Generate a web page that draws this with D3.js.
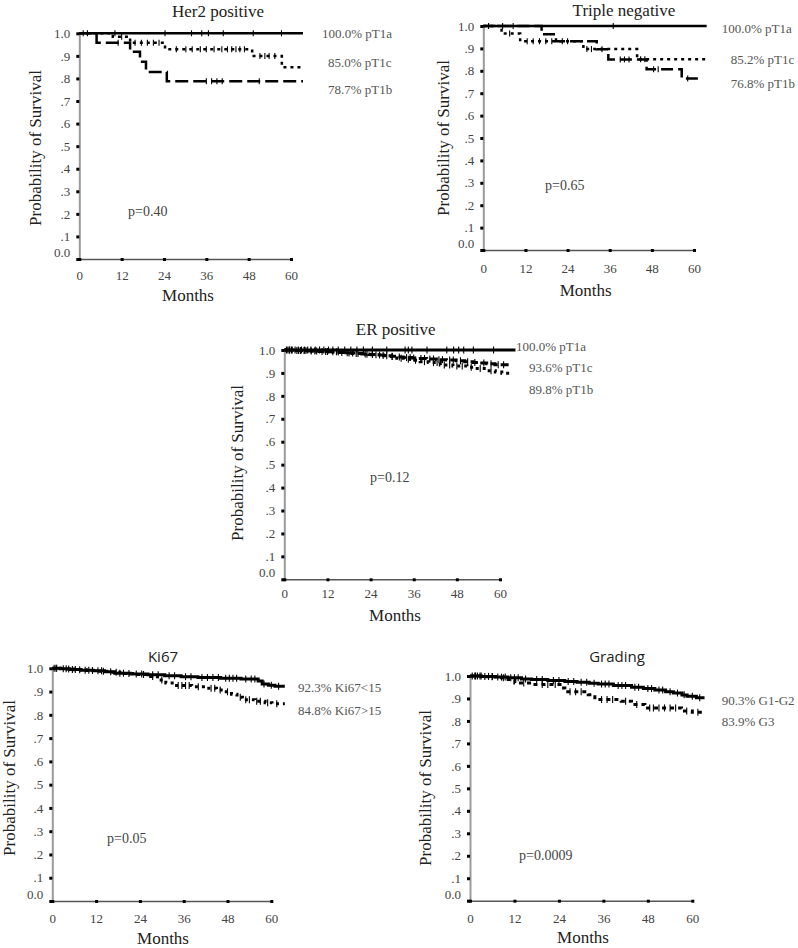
<!DOCTYPE html>
<html><head><meta charset="utf-8">
<script src="https://cdn.jsdelivr.net/npm/d3@7"></script>
<style>body{margin:0;background:#fff}svg{display:block}</style>
</head><body>
<svg id="c" width="798" height="948"></svg>
<script>
// ---------- shared tick values ----------
const yTicks = [0, 0.1, 0.2, 0.3, 0.4, 0.5, 0.6, 0.7, 0.8, 0.9, 1.0];
const yTickLabels = ["0.0", ".1", ".2", ".3", ".4", ".5", ".6", ".7", ".8", ".9", "1.0"];
const xTicks = [0, 12, 24, 36, 48, 60];
const xTickLabels = ["0", "12", "24", "36", "48", "60"];

// ---------- Her2 positive ----------
const her2_pT1a = [[0, 1.0]];
const her2_pT1a_cens = [1.1, 2.3, 10.1, 24.3, 31.8, 34.7, 36.6, 40.8, 49.3, 57.3];
const her2_pT1c = [[0, 1.0], [9.5, 0.985], [14.4, 0.958], [24.3, 0.929], [49.0, 0.899], [57.4, 0.850]];
const her2_pT1c_cens = [12.0, 15.8, 17.6, 19.3, 21.0, 22.6, 27.5, 30.2, 32.0, 34.3, 36.0, 38.2, 40.4, 42.0, 43.2, 44.4, 45.5, 46.8, 51.2, 52.6, 53.8, 55.4];
const her2_pT1b = [[0, 1.0], [4.9, 0.958], [14.4, 0.918], [17.2, 0.874], [18.9, 0.829], [24.8, 0.787]];
const her2_pT1b_cens = [11.0, 36.0, 37.5, 39.0, 40.5, 51.0];
const her2_labels = ["100.0% pT1a", "85.0% pT1c", "78.7% pT1b"];

// ---------- Triple negative ----------
const tn_pT1a = [[0, 1.0]];
const tn_pT1a_cens = [1.5, 5.5, 8.5, 37.0];
const tn_pT1c = [[0, 1.0], [5.2, 0.966], [10.5, 0.932], [28.5, 0.897], [43.8, 0.852]];
const tn_pT1c_cens = [7.5, 12.5, 14.2, 16.0, 17.8, 19.5, 29.5, 30.8, 44.8, 46.0];
const tn_pT1b = [[0, 1.0], [16.6, 0.963], [20.7, 0.932], [32.3, 0.896], [35.6, 0.851], [46.5, 0.807], [56.5, 0.766]];
const tn_pT1b_cens = [22.5, 24.0, 33.8, 39.0, 40.2, 41.5, 48.5, 49.8, 58.2];
const tn_labels = ["100.0% pT1a", "85.2% pT1c", "76.8% pT1b"];

// ---------- ER positive ----------
const er_pT1a = [[0, 1.0]];
const er_pT1a_cens = [0.6, 1.4, 2.2, 3.0, 3.9, 4.8, 5.6, 6.5, 7.4, 8.6, 9.8, 11.0, 12.3, 13.5, 15.0, 16.8, 18.5, 20.2, 22.0, 24.5, 28.5, 33.6, 34.5, 35.5, 39.7, 45.2, 47.1, 48.5, 49.9, 52.6, 58.2];
const er_pT1c = [[0, 1.0], [2.8, 0.998], [6.5, 0.996], [9.7, 0.994], [12.6, 0.992], [15.2, 0.989], [17.4, 0.987], [19.8, 0.985], [21.6, 0.983], [23.5, 0.980], [25.9, 0.978], [27.6, 0.975], [29.8, 0.973], [31.3, 0.970], [33.1, 0.967], [35.4, 0.965], [37.2, 0.963], [39.6, 0.961], [42.3, 0.958], [45.1, 0.956], [47.8, 0.953], [50.2, 0.949], [52.5, 0.946], [54.4, 0.943], [56.3, 0.940], [58.6, 0.936]];
const er_pT1c_cens = [1.0, 2.0, 3.5, 4.5, 5.5, 7.5, 8.5, 10.5, 11.5, 13.5, 14.5, 16.0, 18.0, 19.0, 20.5, 22.5, 24.5, 26.5, 28.5, 30.0, 32.0, 34.0, 35.0, 36.0, 38.0, 39.0, 40.5, 41.5, 43.0, 44.0, 46.0, 47.0, 49.0, 51.0, 53.0, 55.5, 57.5, 59.5, 61.0];
const er_pT1b = [[0, 1.0], [3.4, 0.998], [7.1, 0.996], [10.4, 0.993], [13.5, 0.991], [16.1, 0.988], [18.9, 0.985], [21.3, 0.982], [24.2, 0.979], [26.8, 0.976], [28.9, 0.972], [31.3, 0.964], [33.5, 0.960], [35.8, 0.955], [37.8, 0.949], [40.1, 0.945], [43.4, 0.935], [46.9, 0.930], [50.8, 0.925], [53.2, 0.919], [56.3, 0.910], [58.7, 0.904], [60.5, 0.899]];
const er_pT1b_cens = [1.5, 4.0, 6.0, 9.0, 12.0, 15.0, 17.5, 20.0, 23.0, 25.5, 27.5, 30.0, 32.5, 34.5, 36.5, 39.0, 41.5, 42.5, 44.5, 46.0, 48.0, 49.5, 52.0, 54.5, 57.5];
const er_labels = ["100.0% pT1a", "93.6% pT1c", "89.8% pT1b"];

// ---------- Ki67 ----------
const ki_lt15 = [[0, 1.0], [2.1, 0.998], [4.8, 0.995], [7.9, 0.992], [11.2, 0.989], [14.3, 0.985], [17.1, 0.979], [21.4, 0.976], [26.2, 0.972], [30.8, 0.968], [35.3, 0.964], [39.9, 0.961], [46.1, 0.957], [51.7, 0.954], [56.4, 0.945], [57.5, 0.933], [59.2, 0.927], [61.0, 0.923]];
const ki_lt15_cens = [0.5, 1.2, 3.0, 3.8, 5.5, 6.3, 9.0, 10.0, 12.5, 13.5, 16.0, 18.5, 19.5, 23.0, 24.5, 27.5, 29.0, 32.0, 33.5, 36.5, 38.0, 41.0, 42.5, 44.0, 45.5, 47.5, 48.5, 49.5, 50.5, 53.0, 54.5, 55.5, 58.0, 60.0, 62.0];
const ki_gt15 = [[0, 1.0], [3.2, 0.997], [6.1, 0.994], [9.3, 0.991], [12.4, 0.987], [15.6, 0.983], [19.2, 0.978], [23.1, 0.973], [26.0, 0.965], [28.8, 0.950], [31.1, 0.937], [33.4, 0.926], [38.2, 0.921], [42.0, 0.914], [45.0, 0.907], [47.2, 0.899], [49.1, 0.889], [50.6, 0.876], [52.1, 0.865], [55.4, 0.858], [58.3, 0.852], [60.2, 0.848]];
const ki_gt15_cens = [1.0, 4.5, 7.5, 11.0, 14.0, 17.5, 21.0, 25.0, 27.5, 30.0, 34.5, 35.5, 36.5, 37.5, 40.0, 43.5, 44.5, 46.0, 48.0, 51.5, 53.0, 54.0, 56.0, 57.0, 59.0, 61.5];
const ki_labels = ["92.3% Ki67<15", "84.8% Ki67>15"];

// ---------- Grading ----------
const gr_g12 = [[0, 1.0], [3.1, 0.998], [6.8, 0.995], [10.2, 0.992], [13.9, 0.987], [16.6, 0.984], [21.0, 0.980], [25.6, 0.976], [28.9, 0.972], [32.2, 0.968], [34.6, 0.964], [38.7, 0.958], [43.6, 0.950], [46.8, 0.944], [49.9, 0.938], [52.8, 0.930], [54.9, 0.924], [57.2, 0.916], [58.6, 0.910], [61.1, 0.903]];
const gr_g12_cens = [0.6, 1.3, 2.0, 2.7, 4.0, 5.0, 6.0, 7.5, 8.5, 9.5, 11.0, 12.0, 13.0, 15.0, 18.0, 19.5, 22.5, 24.0, 26.5, 28.0, 30.0, 31.5, 33.5, 35.5, 36.5, 37.5, 40.0, 41.0, 42.0, 44.5, 45.5, 48.0, 49.0, 51.0, 52.0, 54.0, 56.0, 57.8, 60.0, 62.0];
const gr_g3 = [[0, 1.0], [4.2, 0.997], [7.9, 0.992], [10.3, 0.984], [12.1, 0.969], [17.0, 0.962], [24.7, 0.947], [25.6, 0.930], [31.9, 0.917], [33.7, 0.895], [40.8, 0.888], [43.6, 0.873], [47.2, 0.858], [57.1, 0.844], [60.0, 0.839]];
const gr_g3_cens = [1.5, 3.0, 6.0, 9.0, 14.5, 19.5, 21.0, 23.0, 27.0, 28.5, 30.0, 35.5, 37.0, 38.5, 42.0, 45.0, 48.5, 49.5, 51.0, 52.5, 54.0, 55.5, 58.5, 61.5];
const gr_labels = ["90.3% G1-G2", "83.9% G3"];

// ---------- panel layout ----------
const SERIF = "'Liberation Serif','Times New Roman',serif";
const SANS = "'Open Sans',sans-serif";
const SOLID = null, DOT = "3,4", DASH = "13,5";

const panels = [
  { title: "Her2 positive", titleFont: SERIF, titleSize: 17, tx: 218, ty: 11,
    x0: 79.3, x60: 291, yTop: 33.3, yBase: 259, xLabOff: 10, lw: 2.5, ch: 3,
    ylx: 35, yly: 148, mx: 188, my: 295, p: "p=0.40", px: 128, py: 211,
    series: [
      { steps: her2_pT1b, cens: her2_pT1b_cens, end: 63.4, dash: DASH },
      { steps: her2_pT1c, cens: her2_pT1c_cens, end: 63.4, dash: DOT },
      { steps: her2_pT1a, cens: her2_pT1a_cens, end: 63.4, dash: SOLID } ],
    labels: her2_labels, lpos: [[322, 33], [328, 62], [328, 89]] },
  { title: "Triple negative", titleFont: SERIF, titleSize: 17, tx: 624, ty: 10,
    x0: 483.3, x60: 694, yTop: 26, yBase: 250, xLabOff: 12, lw: 2.5, ch: 3,
    ylx: 443, yly: 138, mx: 585.7, my: 290, p: "p=0.65", px: 545, py: 185,
    series: [
      { steps: tn_pT1b, cens: tn_pT1b_cens, end: 62.5, dash: "12,5" },
      { steps: tn_pT1c, cens: tn_pT1c_cens, end: 63.5, dash: DOT },
      { steps: tn_pT1a, cens: tn_pT1a_cens, end: 63.6, dash: SOLID } ],
    labels: tn_labels, lpos: [[721.7, 28], [730.7, 59], [730.7, 83]] },
  { title: "ER positive", titleFont: SERIF, titleSize: 17, tx: 395.7, ty: 329,
    x0: 284.3, x60: 500, yTop: 350, yBase: 579.3, xLabOff: 7.5, lw: 3, ch: 3.5,
    ylx: 236.7, yly: 463, mx: 395, my: 615, p: "p=0.12", px: 370, py: 476.7,
    series: [
      { steps: er_pT1b, cens: er_pT1b_cens, end: 62.9, dash: "3,4" },
      { steps: er_pT1c, cens: er_pT1c_cens, end: 62.9, dash: "8,3" },
      { steps: er_pT1a, cens: er_pT1a_cens, end: 64.3, dash: SOLID } ],
    labels: er_labels, lpos: [[516, 346.7], [529, 367], [529, 389]] },
  { title: "Ki67", titleFont: SANS, titleSize: 15, tx: 163, ty: 657,
    x0: 52.3, x60: 271.3, yTop: 668.3, yBase: 901, xLabOff: 11, lw: 3, ch: 3.5,
    ylx: 9.5, yly: 778, mx: 163, my: 938, p: "p=0.05", px: 107, py: 838,
    series: [
      { steps: ki_gt15, cens: ki_gt15_cens, end: 63.7, dash: "3,4" },
      { steps: ki_lt15, cens: ki_lt15_cens, end: 63.7, dash: SOLID } ],
    labels: ki_labels, lpos: [[298, 687], [298, 710]] },
  { title: "Grading", titleFont: SANS, titleSize: 15, tx: 617, ty: 657,
    x0: 470, x60: 692.3, yTop: 676, yBase: 900.7, xLabOff: 11, lw: 3, ch: 3.5,
    ylx: 425, yly: 788, mx: 583, my: 937, p: "p=0.0009", px: 519, py: 855,
    series: [
      { steps: gr_g3, cens: gr_g3_cens, end: 63.3, dash: "4,4" },
      { steps: gr_g12, cens: gr_g12_cens, end: 63.3, dash: SOLID } ],
    labels: gr_labels, lpos: [[721.7, 700], [721.7, 721.7]] }
];

const svg = d3.select("#c");

function stepValue(steps, t) {
  let v = steps[0][1];
  for (const s of steps) if (s[0] <= t) v = s[1];
  return v;
}

function drawPanel(p) {
  const g = svg.append("g");
  const x = d3.scaleLinear().domain([0, 60]).range([p.x0, p.x60]);
  const y = d3.scaleLinear().domain([0, 1]).range([p.yBase, p.yTop]);

  // y axis
  const ya = g.append("g").attr("transform", `translate(${p.x0},0)`)
    .call(d3.axisLeft(y).tickValues(yTicks).tickFormat((d, i) => yTickLabels[i])
      .tickSize(3).tickSizeOuter(0).tickPadding(6));
  ya.select(".domain").attr("stroke", "#9a9a9a").attr("stroke-width", 2);
  ya.selectAll(".tick line").attr("stroke", "#000").attr("stroke-width", 3);
  ya.selectAll(".tick text").attr("font-family", SERIF).attr("font-size", 13)
    .attr("fill", "#444").attr("dy", d => d === 0 ? "-0.2em" : "0.32em");

  // x axis
  const xa = g.append("g").attr("transform", `translate(0,${p.yBase})`)
    .call(d3.axisBottom(x).tickValues(xTicks).tickFormat((d, i) => xTickLabels[i])
      .tickSize(2).tickSizeOuter(0).tickPadding(p.xLabOff));
  xa.select(".domain").attr("stroke", "#555").attr("stroke-width", 1.5);
  xa.selectAll(".tick line").attr("stroke", "#000").attr("stroke-width", 3).attr("y1", -1);
  xa.selectAll(".tick text").attr("font-family", SERIF).attr("font-size", 13).attr("fill", "#444");

  // curves
  const line = d3.line().x(d => x(d[0])).y(d => y(d[1])).curve(d3.curveStepAfter);
  p.series.forEach(s => {
    const pts = s.steps.concat([[s.end, s.steps[s.steps.length - 1][1]]]);
    g.append("path").attr("d", line(pts)).attr("fill", "none")
      .attr("stroke", "#000").attr("stroke-width", p.lw)
      .attr("stroke-dasharray", s.dash);
    g.append("g").selectAll("line").data(s.cens).join("line")
      .attr("x1", d => x(d)).attr("x2", d => x(d))
      .attr("y1", d => y(stepValue(s.steps, d)) - p.ch)
      .attr("y2", d => y(stepValue(s.steps, d)) + p.ch)
      .attr("stroke", "#000").attr("stroke-width", 1.1);
  });

  // texts
  g.append("text").attr("x", p.tx).attr("y", p.ty).attr("dy", "0.35em")
    .attr("text-anchor", "middle").attr("font-family", p.titleFont)
    .attr("font-size", p.titleSize).attr("fill", "#222").text(p.title);
  g.append("text").attr("transform", `translate(${p.ylx},${p.yly}) rotate(-90)`)
    .attr("dy", "0.35em").attr("text-anchor", "middle").attr("font-family", SERIF)
    .attr("font-size", 17).attr("fill", "#222").text("Probability of Survival");
  g.append("text").attr("x", p.mx).attr("y", p.my).attr("dy", "0.35em")
    .attr("text-anchor", "middle").attr("font-family", SERIF)
    .attr("font-size", 17).attr("fill", "#222").text("Months");
  g.append("text").attr("x", p.px).attr("y", p.py).attr("dy", "0.35em")
    .attr("font-family", SERIF).attr("font-size", 14).attr("fill", "#444").text(p.p);
  g.append("g").selectAll("text").data(p.labels).join("text")
    .attr("x", (d, i) => p.lpos[i][0]).attr("y", (d, i) => p.lpos[i][1]).attr("dy", "0.35em")
    .attr("font-family", SERIF).attr("font-size", 13).attr("fill", "#555").text(d => d);
}

panels.forEach(drawPanel);
</script>
</body></html>
